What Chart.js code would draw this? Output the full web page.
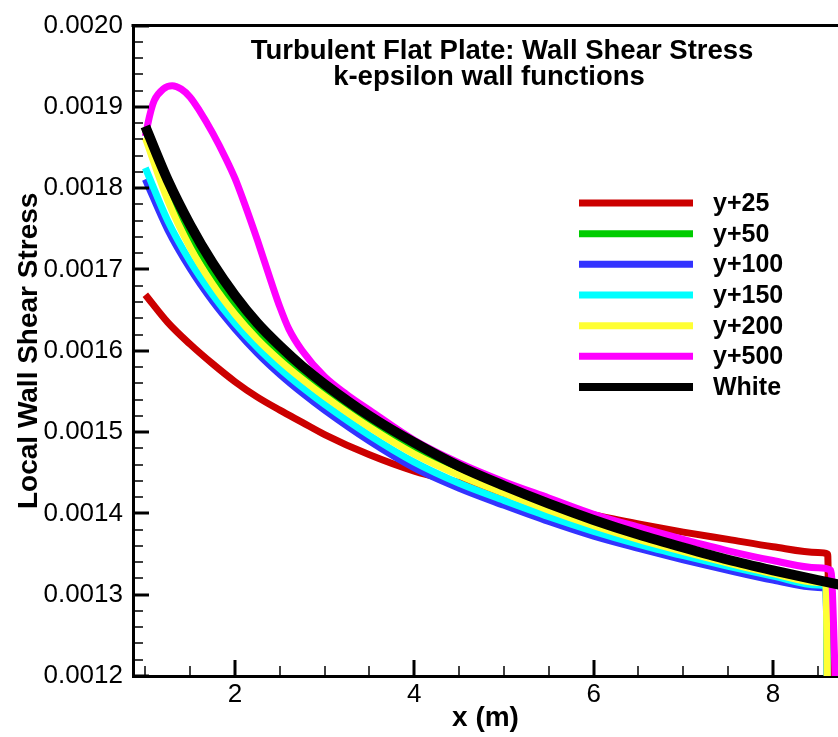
<!DOCTYPE html>
<html>
<head>
<meta charset="utf-8">
<title>Turbulent Flat Plate: Wall Shear Stress</title>
<script src="https://cdn.jsdelivr.net/npm/chart.js@4/dist/chart.umd.min.js"></script>
<style>
    html, body { margin: 0; padding: 0; background: #fff; }
    #wrap { position: relative; width: 838px; height: 737px; }
</style>
</head>
<body>
<div id="wrap"><canvas id="ChartShear"></canvas></div>
<script>
(function () {
    "use strict";

    // Colors
    const c_red = '#cc0000';
    const c_green = '#00cc00';
    const c_blue = '#3333ff';
    const c_cyan = '#00ffff';
    const c_yellow = '#ffff33';
    const c_magenta = '#ff00ff';
    const c_black = '#000000';

    const FONT = '"Liberation Sans", Arial, Helvetica, sans-serif';

    // Axis ticks
    const xTicks = [2, 4, 6, 8];
    const yTicks = [0.0012, 0.0013, 0.0014, 0.0015, 0.0016, 0.0017, 0.0018, 0.0019, 0.0020];
    const xMinorStep = 0.5;
    const yMinorStep = 0.00002;

    // x stations (m)
    const xGrid = [1.0, 1.25, 1.5, 1.75, 2.0, 2.25, 2.5, 2.75, 3.0, 3.5, 4.0, 4.5, 5.0, 5.5, 6.0, 6.5, 7.0, 7.5, 8.0, 8.5];
    const xYp25 = xGrid.concat([8.61, 8.63]);
    const xNear = xGrid.concat([8.59, 8.61]);
    const xYp500 = [1.0, 1.05, 1.1, 1.2, 1.3, 1.4, 1.5, 1.6, 1.75, 1.9, 2.0, 2.1, 2.25, 2.4, 2.5, 2.6, 2.75, 3.0, 3.25, 3.5, 4.0, 4.5, 5.0, 5.5, 6.0, 6.5, 7.0, 7.5, 8.0, 8.5, 8.645, 8.70];
    const xWhite = xGrid.concat([8.75]);

    // Local wall shear stress
    const tauYp25 = [0.001669, 0.001635, 0.001608, 0.001584, 0.001562, 0.001543, 0.001527, 0.001512, 0.001497, 0.001472, 0.001452, 0.001438, 0.001424, 0.001411, 0.001398, 0.001387, 0.001377, 0.001368, 0.001359, 0.001352, 0.001350, 0.00115];
    const tauYp50 = [0.001872, 0.001800, 0.001743, 0.001696, 0.001656, 0.001623, 0.001596, 0.001572, 0.001551, 0.001512, 0.001479, 0.001452, 0.001429, 0.001408, 0.001389, 0.001371, 0.001356, 0.001341, 0.001328, 0.001317, 0.001315, 0.00115];
    const tauYp100 = [0.001811, 0.001749, 0.001701, 0.001661, 0.001627, 0.001597, 0.001571, 0.001548, 0.001527, 0.001489, 0.001456, 0.001431, 0.001410, 0.001390, 0.001372, 0.001357, 0.001343, 0.001330, 0.001318, 0.001309, 0.001308, 0.00115];
    const tauYp150 = [0.001825, 0.001760, 0.001710, 0.001669, 0.001634, 0.001604, 0.001578, 0.001555, 0.001534, 0.001496, 0.001463, 0.001437, 0.001416, 0.001396, 0.001378, 0.001362, 0.001348, 0.001335, 0.001323, 0.001312, 0.001311, 0.00115];
    const tauYp200 = [0.001862, 0.001785, 0.001727, 0.001682, 0.001645, 0.001614, 0.001588, 0.001565, 0.001544, 0.001506, 0.001473, 0.001447, 0.001425, 0.001404, 0.001385, 0.001368, 0.001353, 0.001339, 0.001326, 0.001315, 0.001313, 0.00115];
    const tauYp500 = [0.001864, 0.001890, 0.001908, 0.001922, 0.001926, 0.001922, 0.001912, 0.001896, 0.001868, 0.001836, 0.001812, 0.001783, 0.001736, 0.001686, 0.001654, 0.001627, 0.001600, 0.001568, 0.001546, 0.001527, 0.001490, 0.001462, 0.001439, 0.001419, 0.001399, 0.001383, 0.001368, 0.001354, 0.001342, 0.001333, 0.001330, 0.00118];
    const tauWhite = [0.001876, 0.001810, 0.001755, 0.001708, 0.001668, 0.001634, 0.001606, 0.001581, 0.001559, 0.001520, 0.001487, 0.001458, 0.001434, 0.001412, 0.001392, 0.001374, 0.001358, 0.001343, 0.001330, 0.001318, 0.001312];

    const toPoints = (xs, ys) => xs.map((x, i) => ({ x: x, y: ys[i] }));

    // order: lower values are painted last (on top)
    function lineSet(label, xs, ys, color, width, order) {
        return {
            label: label,
            data: toPoints(xs, ys),
            borderColor: color,
            backgroundColor: color,
            borderWidth: width,
            pointRadius: 0,
            fill: false,
            cubicInterpolationMode: 'monotone',
            clip: 0,
            order: order
        };
    }

    const datasets = [
        lineSet('y+25', xYp25, tauYp25, c_red, 7, 7),
        lineSet('y+50', xNear, tauYp50, c_green, 7, 6),
        lineSet('y+100', xNear, tauYp100, c_blue, 7, 5),
        lineSet('y+150', xNear, tauYp150, c_cyan, 7, 4),
        lineSet('y+200', xNear, tauYp200, c_yellow, 7, 3),
        lineSet('y+500', xYp500, tauYp500, c_magenta, 7, 2),
        lineSet('White', xWhite, tauWhite, c_black, 10, 1)
    ];

    // Inward tick marks + top frame line
    const frameTicks = {
        id: 'frameTicks',
        afterDraw(chart) {
            const { ctx, chartArea: a, scales: { x, y } } = chart;
            ctx.save();
            ctx.strokeStyle = '#000';

            // x ticks
            const ix0 = Math.ceil(x.min / xMinorStep - 1e-6);
            const ix1 = Math.floor(x.max / xMinorStep + 1e-6);
            for (let i = ix0; i <= ix1; i++) {
                const px = Math.round(x.getPixelForValue(i * xMinorStep));
                const major = i % 4 === 0;
                ctx.lineWidth = major ? 3 : 1.5;
                ctx.beginPath();
                ctx.moveTo(px, a.bottom);
                ctx.lineTo(px, a.bottom - (major ? 16 : 10));
                ctx.stroke();
            }

            // y ticks
            const iy0 = Math.ceil(y.min / yMinorStep - 1e-6);
            const iy1 = Math.floor(y.max / yMinorStep + 1e-6);
            for (let i = iy0; i <= iy1; i++) {
                const py = Math.round(y.getPixelForValue(i * yMinorStep));
                const major = i % 5 === 0;
                ctx.lineWidth = major ? 3 : 1.5;
                ctx.beginPath();
                ctx.moveTo(a.left, py);
                ctx.lineTo(a.left + (major ? 16 : 10), py);
                ctx.stroke();
            }

            // top frame
            ctx.lineWidth = 3;
            ctx.beginPath();
            ctx.moveTo(a.left - 1.5, a.top);
            ctx.lineTo(a.right, a.top);
            ctx.stroke();
            ctx.restore();
        }
    };

    // Title text inside the plot
    const plotTitle = {
        id: 'plotTitle',
        afterDraw(chart) {
            const ctx = chart.ctx;
            ctx.save();
            ctx.fillStyle = '#000';
            ctx.font = 'bold 27.5px ' + FONT;
            ctx.textAlign = 'center';
            ctx.textBaseline = 'alphabetic';
            ctx.fillText('Turbulent Flat Plate: Wall Shear Stress', 502, 59);
            ctx.fillText('k-epsilon wall functions', 489, 85);
            ctx.restore();
        }
    };

    // Legend drawn inside the plot, long line samples, no box
    const lineLegend = {
        id: 'lineLegend',
        afterDraw(chart) {
            const ctx = chart.ctx;
            ctx.save();
            ctx.font = 'bold 25px ' + FONT;
            ctx.textAlign = 'left';
            ctx.textBaseline = 'middle';
            chart.data.datasets.forEach((ds, i) => {
                const yy = 203 + i * 30.67;
                ctx.strokeStyle = ds.borderColor;
                ctx.lineWidth = ds.borderWidth > 7 ? 8 : 7;
                ctx.beginPath();
                ctx.moveTo(579, yy);
                ctx.lineTo(693, yy);
                ctx.stroke();
                ctx.fillStyle = '#000';
                ctx.fillText(ds.label, 713, yy + 1);
            });
            ctx.restore();
        }
    };

    const ctb = document.getElementById('ChartShear').getContext('2d');

    const ShearChart = new Chart(ctb, {
        type: 'line',
        data: { datasets: datasets },
        options: {
            responsive: true,
            maintainAspectRatio: false,
            animation: false,
            layout: {
                padding: { top: 20, right: 0, bottom: 0, left: 0 }
            },
            scales: {
                x: {
                    type: 'linear',
                    min: 0.8625,
                    max: 8.725,
                    afterBuildTicks: (scale) => { scale.ticks = xTicks.map(v => ({ value: v })); },
                    afterFit: (scale) => { scale.height = 61; },
                    grid: { display: false, drawTicks: false },
                    border: { display: true, color: '#000', width: 3 },
                    ticks: {
                        color: '#000',
                        autoSkip: false,
                        maxRotation: 0,
                        padding: 3,
                        font: { family: FONT, size: 26 }
                    },
                    title: {
                        display: true,
                        text: 'x (m)',
                        color: '#000',
                        padding: { top: 0, bottom: 2 },
                        font: { family: FONT, size: 28, weight: 'bold' }
                    }
                },
                y: {
                    type: 'linear',
                    min: 0.0012,
                    max: 0.0020,
                    afterBuildTicks: (scale) => { scale.ticks = yTicks.map(v => ({ value: v })); },
                    afterFit: (scale) => { scale.width = 133; },
                    grid: { display: false, drawTicks: false },
                    border: { display: true, color: '#000', width: 3 },
                    ticks: {
                        color: '#000',
                        autoSkip: false,
                        padding: 10,
                        font: { family: FONT, size: 26 },
                        callback: (value) => Number(value).toFixed(4)
                    },
                    title: {
                        display: true,
                        text: 'Local Wall Shear Stress',
                        color: '#000',
                        padding: { top: 12, bottom: 0 },
                        font: { family: FONT, size: 28, weight: 'bold' }
                    }
                }
            },
            plugins: {
                legend: { display: false },
                title: { display: false },
                tooltip: { enabled: false }
            }
        },
        plugins: [frameTicks, plotTitle, lineLegend]
    });
})();
</script>
</body>
</html>
